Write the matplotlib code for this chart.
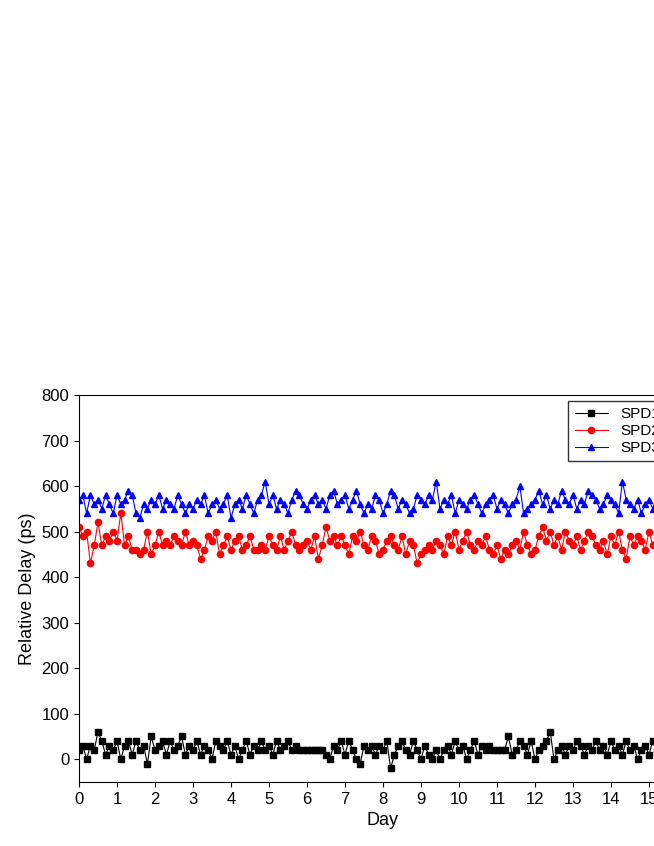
import numpy as np
import matplotlib
matplotlib.use("Agg")
import matplotlib.pyplot as plt
from matplotlib.ticker import MultipleLocator

plt.rcParams["font.family"] = "Liberation Sans"

spd1 = [20,30,0,30,20,60,40,10,30,20, 40,0,30,40,10,40,20,30,-10,50,
20,30,40,10,40,20,30,50,10,30, 20,40,10,30,20,0,40,30,20,40,
10,30,0,20,40,10,30,20,40,20, 30,10,40,20,30,40,20,30,20,20,
20,20,20,20,20,10,0,30,20,40, 10,40,20,0,-10,30,20,30,10,30,
20,40,-20,10,30,40,20,10,40,20, 0,30,10,0,20,0,20,30,10,40,
20,30,0,20,40,10,30,20,30,20, 20,20,20,50,10,20,40,30,10,40,
0,20,30,40,60,0,20,30,10,30, 20,40,30,10,30,20,40,20,30,10,
40,20,30,10,40,20,30,0,20,30, 10,40,20,30,0,20,30,10,20,30]

spd2 = [510,490,500,430,470,520,470,490,480,500, 480,540,470,490,460,460,450,460,500,450,
470,500,470,480,470,490,480,470,500,470, 480,470,440,460,490,480,500,450,470,490,
460,480,490,460,470,490,460,460,470,460, 490,470,460,490,460,480,500,470,460,470,
480,460,490,440,470,510,480,490,470,490, 470,450,490,480,500,470,460,490,480,450,
460,480,490,470,460,490,450,480,470,430, 450,460,470,460,480,470,450,490,470,500,
460,480,500,470,460,480,470,490,460,450, 470,440,460,450,470,480,460,500,470,450,
460,490,510,480,500,470,490,460,500,480, 470,490,460,480,500,490,470,460,480,450,
490,470,500,460,440,490,470,490,480,460, 500,470,480,490,460,480,500,470,490,460]

spd3 = [570,580,540,580,560,570,550,580,560,540, 580,560,570,590,580,540,530,560,550,570,
560,580,550,570,560,550,580,560,540,560, 550,570,560,580,540,560,570,550,560,580,
530,560,570,550,580,560,540,570,580,610, 560,580,550,570,560,540,570,590,580,560,
550,570,580,560,570,550,580,590,560,570, 580,550,570,590,560,540,560,550,580,570,
540,560,590,580,550,570,560,540,550,580, 570,560,580,570,610,550,570,560,580,540,
570,560,550,570,580,560,540,560,570,580, 550,570,560,540,560,570,600,540,550,560,
570,590,560,580,550,570,560,590,570,560, 580,550,570,560,590,580,570,550,560,580,
570,560,540,610,570,560,550,570,540,560, 570,550,580,560,570,540,560,570,550,560]

day = np.arange(len(spd1)) * 0.1
labels = ["SPD1", "SPD2", "SPD3"]

fig = plt.figure(figsize=(6.54, 8.46), dpi=100)
ax = fig.add_axes([79/654, 64/846, 608/654, 387/846])
ax.plot(day, spd1, "-s", color="black", lw=0.8, ms=4, label=labels[0])
ax.plot(day, spd2, "-o", color="red", lw=0.8, ms=4.5, label=labels[1])
ax.plot(day, spd3, "-^", color="blue", lw=0.8, ms=5, label=labels[2])
ax.set_xlim(0, 16)
ax.set_ylim(-50, 800)
ax.xaxis.set_major_locator(MultipleLocator(1))
ax.yaxis.set_major_locator(MultipleLocator(100))
ax.tick_params(labelsize=12)
ax.set_xlabel("Day", fontsize=13)
ax.set_ylabel("Relative Delay (ps)", fontsize=13)
ax.legend(loc="upper left", bbox_to_anchor=(0.805, 0.985), fontsize=11,
          frameon=True, fancybox=False, edgecolor="black", borderaxespad=0,
          handlelength=2.2, labelspacing=0.2)
fig.savefig("out.png", dpi=100)
